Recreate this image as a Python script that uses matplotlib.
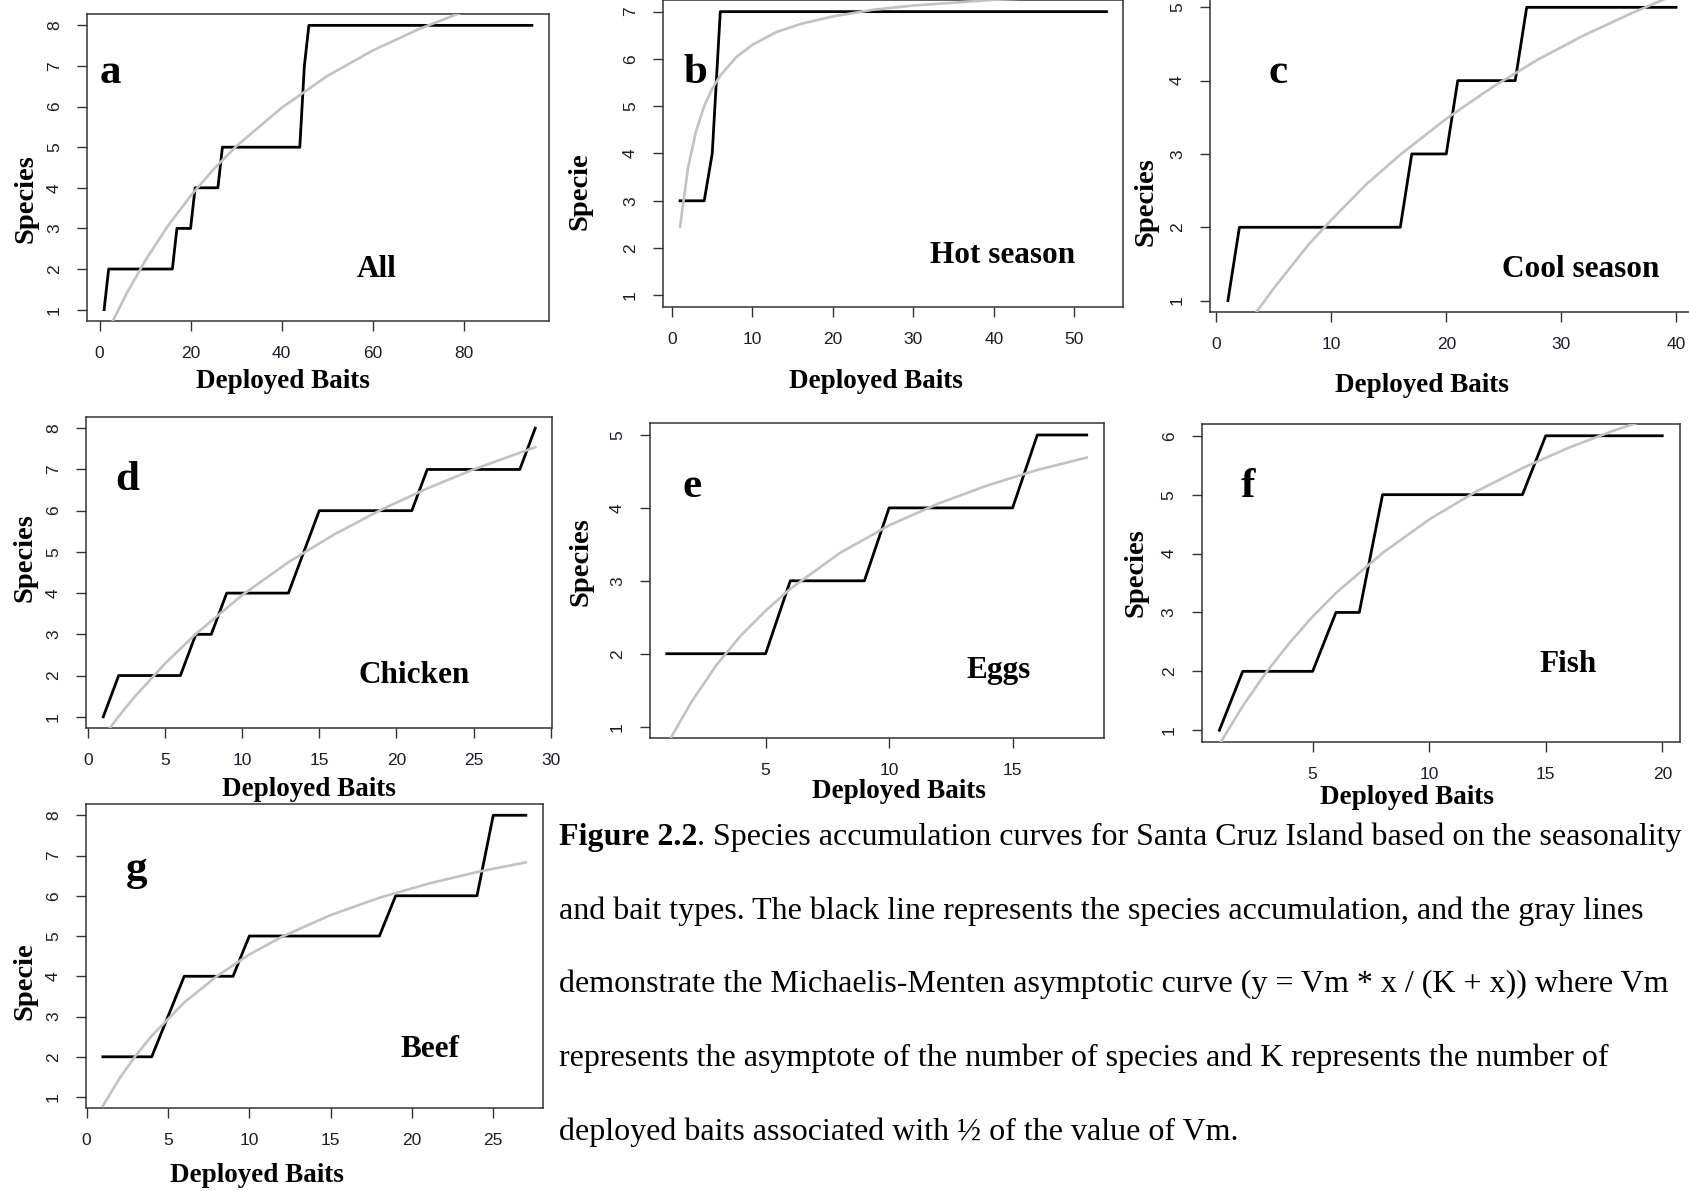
"""
Species accumulation curves (Santa Cruz Island), redrawn as a single figure.
Black = collector curve, gray = Michaelis-Menten fit read off the original.
"""

import matplotlib
matplotlib.use("Agg")
import matplotlib.pyplot as plt

W, H = 1690, 1191          # output size in pixels (dpi 100)
SERIF = "Liberation Serif"
SANS = "Liberation Sans"

# ── a: All ────────────────────────────────────────────────────────────────────
A_X = [1, 2, 16, 17, 20, 21, 26, 27, 44, 45, 46, 95]
A_Y = [1, 2, 2, 3, 3, 4, 4, 5, 5, 7, 8, 8]
A_FIT_X = [1, 3, 6, 10, 15, 20, 25, 30, 40, 50, 60, 70, 80, 90, 95]
A_FIT_Y = [0.26, 0.74, 1.41, 2.20, 3.06, 3.80, 4.45, 5.02, 5.97, 6.75, 7.38, 7.90, 8.34, 8.72, 8.89]
A_XTICKS = [0, 20, 40, 60, 80]

# ── b: Hot season ─────────────────────────────────────────────────────────────
B_X = [1, 4, 5, 6, 54]
B_Y = [3, 3, 4, 7, 7]
B_FIT_X = [1, 2, 3, 4, 5, 6, 8, 10, 13, 16, 20, 25, 30, 40, 54]
B_FIT_Y = [2.45, 3.71, 4.48, 5.00, 5.37, 5.65, 6.04, 6.30, 6.57, 6.74, 6.90, 7.04, 7.13, 7.25, 7.34]
B_XTICKS = [0, 10, 20, 30, 40, 50]

# ── c: Cool season ────────────────────────────────────────────────────────────
C_X = [1, 2, 16, 17, 20, 21, 26, 27, 40]
C_Y = [1, 2, 2, 3, 3, 4, 4, 5, 5]
C_FIT_X = [1, 3, 5, 8, 10, 13, 16, 20, 24, 28, 32, 36, 40]
C_FIT_Y = [0.26, 0.74, 1.17, 1.76, 2.10, 2.58, 2.99, 3.48, 3.91, 4.29, 4.62, 4.91, 5.18]
C_XTICKS = [0, 10, 20, 30, 40]

# ── d: Chicken ────────────────────────────────────────────────────────────────
D_X = [1, 2, 6, 7, 8, 9, 13, 14, 15, 21, 22, 28, 29]
D_Y = [1, 2, 2, 3, 3, 4, 4, 5, 6, 6, 7, 7, 8]
D_FIT_X = [1, 2, 3, 5, 7, 10, 13, 16, 19, 22, 25, 29]
D_FIT_Y = [0.52, 1.01, 1.47, 2.29, 3.01, 3.95, 4.75, 5.43, 6.02, 6.54, 7.00, 7.54]
D_XTICKS = [0, 5, 10, 15, 20, 25, 30]

# ── e: Eggs ───────────────────────────────────────────────────────────────────
E_X = [1, 5, 6, 9, 10, 15, 16, 18]
E_Y = [2, 2, 3, 3, 4, 4, 5, 5]
E_FIT_X = [1, 2, 3, 4, 5, 6, 8, 10, 12, 14, 16, 18]
E_FIT_Y = [0.75, 1.34, 1.84, 2.25, 2.59, 2.89, 3.38, 3.76, 4.06, 4.31, 4.52, 4.69]
E_XTICKS = [5, 10, 15]

# ── f: Fish ───────────────────────────────────────────────────────────────────
F_X = [1, 2, 5, 6, 7, 8, 14, 15, 20]
F_Y = [1, 2, 2, 3, 3, 5, 5, 6, 6]
F_FIT_X = [1, 2, 3, 4, 5, 6, 8, 10, 12, 14, 16, 18, 20]
F_FIT_Y = [0.76, 1.41, 1.98, 2.48, 2.93, 3.33, 4.01, 4.58, 5.05, 5.45, 5.80, 6.10, 6.36]
F_XTICKS = [5, 10, 15, 20]

# ── g: Beef ───────────────────────────────────────────────────────────────────
G_X = [1, 4, 6, 9, 10, 18, 19, 24, 25, 27]
G_Y = [2, 2, 4, 4, 5, 5, 6, 6, 8, 8]
G_FIT_X = [1, 2, 3, 4, 6, 8, 10, 12, 15, 18, 21, 24, 27]
G_FIT_Y = [0.78, 1.45, 2.02, 2.52, 3.35, 4.00, 4.54, 4.98, 5.52, 5.95, 6.30, 6.59, 6.83]
G_XTICKS = [0, 5, 10, 15, 20, 25]

CAPTION_BOLD = "Figure 2.2"
CAPTION_LINES = [
    ". Species accumulation curves for Santa Cruz Island based on the seasonality",
    "and bait types. The black line represents the species accumulation, and the gray lines",
    "demonstrate the Michaelis-Menten asymptotic curve (y = Vm * x / (K + x)) where Vm",
    "represents the asymptote of the number of species and K represents the number of",
    "deployed baits associated with \u00bd of the value of Vm.",
]

# Layout (pixels): box = (left, top, right, bottom); text anchors are centres
PANELS = [
    dict(x=A_X, y=A_Y, fx=A_FIT_X, fy=A_FIT_Y, xt=A_XTICKS, ylab="Species",
         letter="a", name="All",
         box=(87, 14, 549, 321), xl=(283, 381), yl=(26, 199),
         let=(110, 83), nm=(377, 277)),
    dict(x=B_X, y=B_Y, fx=B_FIT_X, fy=B_FIT_Y, xt=B_XTICKS, ylab="Specie",
         letter="b", name="Hot season",
         box=(663, 0.3, 1123.5, 306.7), xl=(876, 381), yl=(580, 191),
         let=(695, 83), nm=(1003, 263)),
    dict(x=C_X, y=C_Y, fx=C_FIT_X, fy=C_FIT_Y, xt=C_XTICKS, ylab="Species",
         letter="c", name="Cool season",
         box=(1210, -4.4, 1694, 312.3), xl=(1422, 386), yl=(1146, 202),
         let=(1278, 83), nm=(1581, 277)),
    dict(x=D_X, y=D_Y, fx=D_FIT_X, fy=D_FIT_Y, xt=D_XTICKS, ylab="Species",
         letter="d", name="Chicken",
         box=(86, 416.7, 552.5, 728.3), xl=(309, 790), yl=(25, 558),
         let=(127, 490), nm=(414, 683)),
    dict(x=E_X, y=E_Y, fx=E_FIT_X, fy=E_FIT_Y, xt=E_XTICKS, ylab="Species",
         letter="e", name="Eggs",
         box=(650, 423.3, 1103.5, 738.3), xl=(899, 792), yl=(581, 562),
         let=(692, 497), nm=(999, 678)),
    dict(x=F_X, y=F_Y, fx=F_FIT_X, fy=F_FIT_Y, xt=F_XTICKS, ylab="Species",
         letter="f", name="Fish",
         box=(1201.7, 424, 1680, 742), xl=(1407, 798), yl=(1136, 573),
         let=(1248, 497), nm=(1568, 672)),
    dict(x=G_X, y=G_Y, fx=G_FIT_X, fy=G_FIT_Y, xt=G_XTICKS, ylab="Specie",
         letter="g", name="Beef",
         box=(86, 804, 542.7, 1108.3), xl=(257, 1175), yl=(25, 981),
         let=(137, 880), nm=(430, 1057)),
]


def fxy(px, py):
    """Pixel position (from top-left) -> figure fraction."""
    return px / W, 1 - py / H


def draw_panel(fig, p):
    L, T, R, B = p["box"]
    ax = fig.add_axes([L / W, 1 - B / H, (R - L) / W, (B - T) / H])

    ax.plot(p["x"], p["y"], color="black", lw=2.0, zorder=2)
    ax.plot(p["fx"], p["fy"], color="#c2c2c2", lw=1.9, zorder=3)

    # R-style 4% padding around the data range, y axis always starting at 1
    xmin, xmax = min(p["x"]), max(p["x"])
    xr = xmax - xmin
    ax.set_xlim(xmin - 0.04 * xr, xmax + 0.04 * xr)
    ymax = max(p["y"])
    yr = ymax - 1
    ax.set_ylim(1 - 0.04 * yr, ymax + 0.04 * yr)

    ax.set_xticks(p["xt"])
    ax.set_yticks(range(1, ymax + 1))
    ax.tick_params(direction="out", length=7.5, width=1.0, color="#333333",
                   labelsize=12.5, labelcolor="#1c1c30", pad=10.5)
    ax.tick_params(axis="y", labelrotation=90)
    for lab in ax.get_yticklabels() + ax.get_xticklabels():
        lab.set_fontfamily(SANS)
    for lab in ax.get_yticklabels():
        lab.set_verticalalignment("center")
    for s in ax.spines.values():
        s.set_linewidth(1.1)
        s.set_color("#333333")

    bold = dict(fontfamily=SERIF, fontweight="bold", color="black")
    fig.text(*fxy(*p["xl"]), "Deployed Baits", ha="center", va="center",
             fontsize=19.5, **bold)
    fig.text(*fxy(*p["yl"]), p["ylab"], ha="center", va="center",
             rotation=90, fontsize=20.5, **bold)
    fig.text(*fxy(*p["let"]), p["letter"], ha="center", va="baseline",
             fontsize=31, **bold)
    fig.text(*fxy(*p["nm"]), p["name"], ha="center", va="baseline",
             fontsize=22.5, **bold)


def draw_caption(fig):
    x0, base0, step = 559, 845, 73.7
    size = 23
    t = fig.text(*fxy(x0, base0), CAPTION_BOLD, ha="left", va="baseline",
                 fontsize=size, fontfamily=SERIF, fontweight="bold")
    renderer = fig.canvas.get_renderer()
    bw = t.get_window_extent(renderer).width
    for i, line in enumerate(CAPTION_LINES):
        x = x0 + bw if i == 0 else x0
        fig.text(*fxy(x, base0 + i * step), line, ha="left", va="baseline",
                 fontsize=size, fontfamily=SERIF)


def main():
    fig = plt.figure(figsize=(W / 100, H / 100), dpi=100, facecolor="white")
    for p in PANELS:
        draw_panel(fig, p)
    draw_caption(fig)
    fig.savefig("out.png", dpi=100, facecolor="white")


if __name__ == "__main__":
    main()
